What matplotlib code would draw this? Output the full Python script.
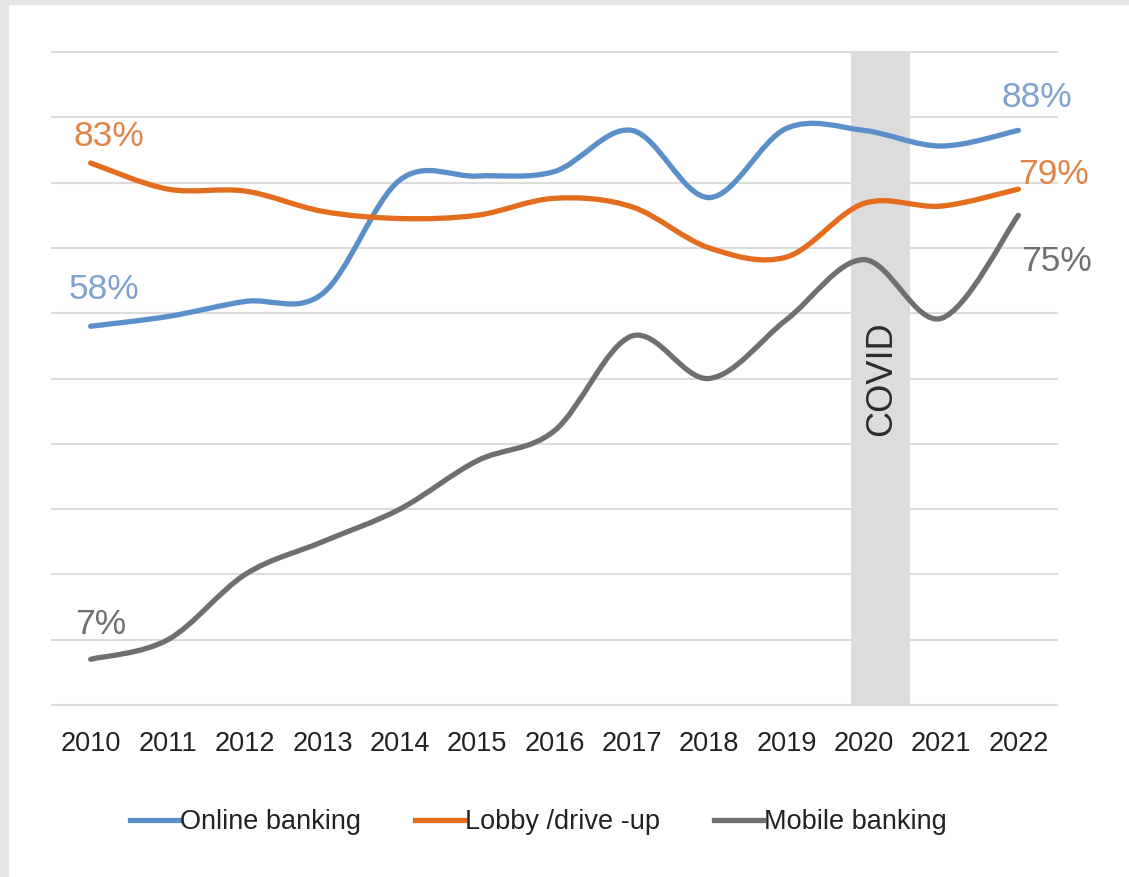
import numpy as np
import matplotlib.pyplot as plt
from matplotlib.path import Path
from matplotlib.patches import PathPatch, Rectangle
from matplotlib.lines import Line2D

plt.rcParams['font.family'] = ['Liberation Sans', 'DejaVu Sans']

years = list(range(2010, 2023))
online = [58, 59.5, 61.8, 63, 80.4, 81, 81.7, 88, 77.7, 88.3, 88, 85.6, 88]
lobby = [83, 79, 78.7, 75.6, 74.5, 75, 77.6, 76.3, 70, 68.6, 76.8, 76.4, 79]
mobile = [7, 10, 20, 25, 30, 37.4, 42, 56.5, 50, 59, 68.2, 59.2, 75]
series_names = ["Online banking", "Lobby /drive -up", "Mobile banking"]
covid_span = (2019.83, 2020.6)

line_colors = ["#5b8fc9", "#e46c1e", "#6f6f6f"]
label_colors = ["#7fa3cc", "#e08448", "#707070"]


def smooth_path(x, y):
    # Catmull-Rom style bezier segments through the data points
    x = np.asarray(x, float)
    y = np.asarray(y, float)
    pts = np.column_stack([x, y])
    verts = [pts[0]]
    codes = [Path.MOVETO]
    n = len(pts)
    for i in range(n - 1):
        p0 = pts[max(i - 1, 0)]
        p1 = pts[i]
        p2 = pts[i + 1]
        p3 = pts[min(i + 2, n - 1)]
        c1 = p1 + (p2 - p0) / 6.0
        c2 = p2 - (p3 - p1) / 6.0
        verts += [c1, c2, p2]
        codes += [Path.CURVE4] * 3
    return Path(verts, codes)


fig = plt.figure(figsize=(11.29, 8.77), dpi=100)
fig.patch.set_facecolor("white")
# thin grey frame along the left and top edges
fig.patches.append(Rectangle((0, 0), 8 / 1129, 1, transform=fig.transFigure,
                             color="#e6e6e6", zorder=0))
fig.patches.append(Rectangle((0, 1 - 4 / 877), 1, 4 / 877, transform=fig.transFigure,
                             color="#e6e6e6", zorder=0))

ax = fig.add_axes([52 / 1129, 1 - 705 / 877, 1005 / 1129, 653 / 877])
ax.set_xlim(2009.5, 2022.5)
ax.set_ylim(0, 100)

ax.set_yticks(np.arange(0, 101, 10))
ax.set_yticklabels([])
ax.grid(axis="y", color="#dcdcdc", linewidth=1.5, zorder=0)
for gl in ax.get_ygridlines():
    gl.set_clip_on(False)
ax.tick_params(axis="y", length=0)
ax.set_xticks(years)
ax.set_xticklabels([str(y) for y in years], fontsize=19.5, color="#222222")
ax.tick_params(axis="x", length=0, pad=19)
for s in ax.spines.values():
    s.set_visible(False)

ax.axvspan(covid_span[0], covid_span[1], color="#d9d9d9", alpha=0.9, zorder=1, lw=0)
ax.text(sum(covid_span) / 2 + 0.02, 50, "COVID", rotation=90, ha="center", va="center",
        fontsize=26, color="#2b2b2b", zorder=2)

all_series = [online, lobby, mobile]
for vals, col in zip(all_series, line_colors):
    ax.add_patch(PathPatch(smooth_path(years, vals), facecolor="none", edgecolor=col,
                           lw=3.8, capstyle="round", joinstyle="round", zorder=3))

# end point value labels
start_offsets = [(-22, 20), (-17, 10), (-16, 18)]
end_offsets = [(-17, 16), (0, -2), (3, -63)]
for vals, col, so, eo in zip(all_series, label_colors, start_offsets, end_offsets):
    ax.annotate(f"{vals[0]:.0f}%", (years[0], vals[0]), xytext=so, textcoords="offset pixels",
                fontsize=25.5, color=col, ha="left", va="bottom")
    ax.annotate(f"{vals[-1]:.0f}%", (years[-1], vals[-1]), xytext=eo, textcoords="offset pixels",
                fontsize=25.5, color=col, ha="left", va="bottom", annotation_clip=False)

handles = [Line2D([], [], color=c, lw=3.8) for c in line_colors]
fig.legend(handles, series_names, loc="center", bbox_to_anchor=(0.477, 1 - 822 / 877),
           ncol=3, frameon=False, fontsize=19.5, handlelength=1.8, handletextpad=0.05,
           columnspacing=2.0, labelcolor="#222222")

fig.savefig("out.png", dpi=100)
